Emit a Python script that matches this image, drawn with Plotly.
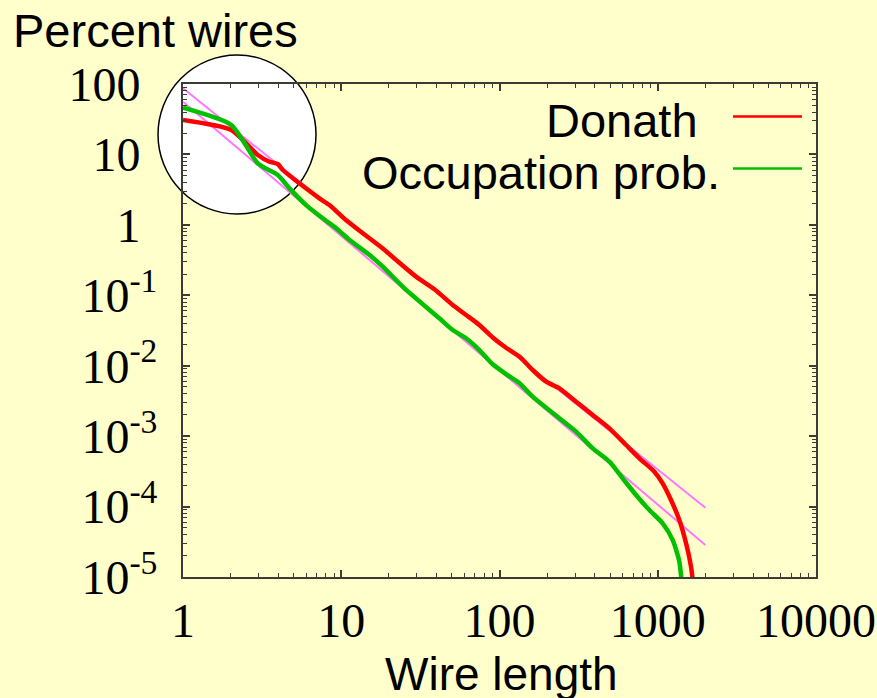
import plotly.graph_objects as go

# ---- data -----------------------------------------------------------------
# Donath estimate of the wire-length distribution (percent of wires)
donath_len = [1.0, 2.02, 2.97, 3.52, 3.97, 4.27, 5.44, 7.28, 8.42, 10.7, 13.7,
              18.3, 22.2, 29.7, 38.8, 50.6, 61.5, 74.6, 90.6, 110, 134, 162,
              197, 239, 305, 388, 495, 631, 765, 952, 1074, 1213, 1369, 1510,
              1623, 1691]
donath_pct = [30.8, 22.2, 9.82, 7.88, 7.31, 6.01, 3.89, 2.38, 1.91, 1.17, 0.759,
              0.462, 0.318, 0.184, 0.1216, 0.0728, 0.0525, 0.0379, 0.0252,
              0.0180, 0.0134, 0.00869, 0.00593, 0.00477, 0.00308, 0.00200,
              0.00129, 0.000748, 0.000485, 0.000313, 0.000214, 0.000124,
              6.44e-5, 3.01e-5, 1.40e-5, 6.5e-6]

# Occupation-probability model
occ_len = [1.0, 2.02, 2.97, 3.97, 4.71, 6.00, 7.64, 9.29, 11.3, 15.1, 18.3,
           25.1, 41.7, 50.6, 61.5, 74.6, 90.6, 110, 134, 162, 239, 305, 388,
           495, 600, 729, 885, 1074, 1242, 1369, 1430]
occ_pct = [46.1, 26.2, 7.48, 5.10, 3.30, 1.91, 1.24, 0.894, 0.610, 0.373, 0.255,
           0.1256, 0.0471, 0.0321, 0.0245, 0.0167, 0.0105, 0.00760, 0.00562,
           0.00363, 0.00179, 0.00116, 0.000671, 0.000434, 0.000252, 0.000146,
           8.93e-5, 5.79e-5, 3.36e-5, 1.65e-5, 6.5e-6]

# Power-law fits (end points of the straight lines on log-log axes)
fit_len = [1, 2000]
fit_upper = [86.9, 9.6e-5]
fit_lower = [56.1, 2.84e-5]

# Tick labels (plain labels carry a blank exponent so all bases line up)
PAD = "<sup>\u00a0\u00a0</sup>"
x_tickvals = [1, 10, 100, 1000, 10000]
x_ticktext = ["1", "10", "100", "1000", "10000"]
y_tickvals = [1e-5, 1e-4, 1e-3, 1e-2, 1e-1, 1, 10, 100]
y_ticktext = ["10<sup>-5</sup>", "10<sup>-4</sup>", "10<sup>-3</sup>",
              "10<sup>-2</sup>", "10<sup>-1</sup>", "1" + PAD, "10" + PAD,
              "100" + PAD]

series_names = ["Donath", "Occupation prob."]

# ---- styling --------------------------------------------------------------
W, H = 877, 698
ML, MR, MT, MB = 183, 61, 84, 121
BG = "#FFFFCC"
AXIS = "#3c3c34"
RED = "#FF0000"
GREEN = "#00C000"
VIOLET = "#FF77FF"
SANS = "Liberation Sans, Arial, sans-serif"
SERIF = "Liberation Serif, Times New Roman, serif"

PW = W - ML - MR
PH = H - MT - MB


def px(x):
    """pixel column -> paper x"""
    return (x - ML) / PW


def py(y):
    """pixel row -> paper y"""
    return 1 - (y - MT) / PH


fig = go.Figure()

for yv in (fit_upper, fit_lower):
    fig.add_trace(go.Scatter(x=fit_len, y=yv, mode="lines",
                             line=dict(color=VIOLET, width=2),
                             showlegend=False, hoverinfo="skip"))

fig.add_trace(go.Scatter(x=donath_len, y=donath_pct, mode="lines",
                         name=series_names[0],
                         line=dict(color=RED, width=4.5, shape="spline",
                                   smoothing=0.6),
                         showlegend=False))
fig.add_trace(go.Scatter(x=occ_len, y=occ_pct, mode="lines",
                         name=series_names[1],
                         line=dict(color=GREEN, width=4.5, shape="spline",
                                   smoothing=0.6),
                         showlegend=False))

axis_common = dict(
    type="log",
    automargin=False,
    showgrid=False,
    zeroline=False,
    showline=True,
    linecolor=AXIS,
    linewidth=2,
    mirror="allticks",
    ticks="inside",
    ticklen=7,
    tickwidth=1.5,
    tickcolor=AXIS,
    tickmode="array",
    tickfont=dict(family=SERIF, size=48, color="#000000"),
    minor=dict(ticks="inside", ticklen=4, tickwidth=1.2, tickcolor=AXIS,
               dtick="D1", showgrid=False),
)

fig.update_xaxes(range=[0, 4], tickvals=x_tickvals, ticktext=x_ticktext,
                 **axis_common)
fig.update_yaxes(range=[-5, 2], tickvals=y_tickvals, ticktext=y_ticktext,
                 ticklabelstandoff=14, **axis_common)

# highlighted region around the short wires
fig.add_shape(type="circle", xref="paper", yref="paper",
              x0=px(158), x1=px(316), y0=py(214), y1=py(55),
              fillcolor="#FFFFFF", line=dict(color="#000000", width=1.5),
              layer="below")

# key: right-justified labels with line samples to their right
key_rows = [(series_names[0], RED, 700, 120, 116.5),
            (series_names[1], GREEN, 722, 172, 168.5)]
for label, color, xr, ytxt, yline in key_rows:
    fig.add_annotation(text=label, xref="paper", yref="paper",
                       x=px(xr), y=py(ytxt), xanchor="right", yanchor="middle",
                       showarrow=False,
                       font=dict(family=SANS, size=47, color="#000000"))
    fig.add_shape(type="line", xref="paper", yref="paper",
                  x0=px(733), x1=px(802), y0=py(yline), y1=py(yline),
                  line=dict(color=color, width=2.5))

# axis titles
fig.add_annotation(text="Percent wires", xref="paper", yref="paper",
                   x=px(11), y=py(30), xanchor="left", yanchor="middle",
                   showarrow=False, font=dict(family=SANS, size=47, color="#000000"))
fig.add_annotation(text="Wire length", xref="paper", yref="paper",
                   x=px(501), y=py(674), xanchor="center", yanchor="middle",
                   showarrow=False, font=dict(family=SANS, size=46, color="#000000"))

fig.update_layout(
    width=W, height=H,
    margin=dict(l=ML, r=MR, t=MT, b=MB, pad=0),
    paper_bgcolor=BG,
    plot_bgcolor="rgba(0,0,0,0)",
    showlegend=False,
)

fig.write_html("out.html")
